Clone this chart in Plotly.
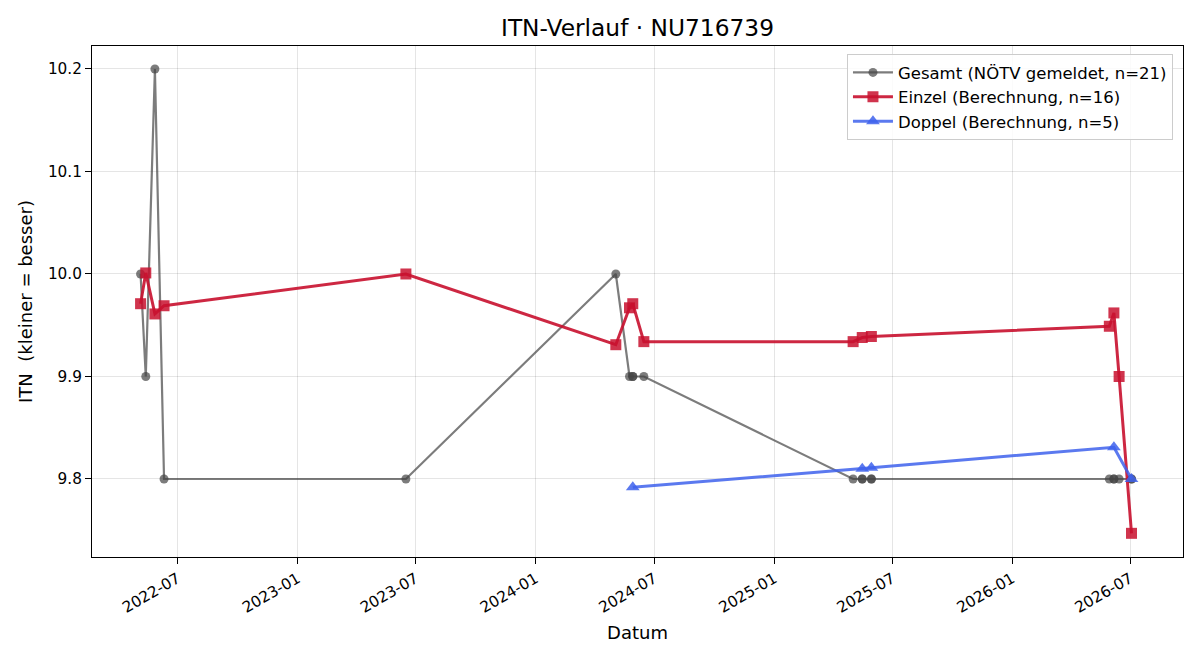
import plotly.graph_objects as go

# Data
gesamt_dates = ["2022-05-05", "2022-05-13", "2022-05-27", "2022-06-10", "2023-06-16",
                "2024-05-03", "2024-05-24", "2024-05-29", "2024-05-29", "2024-06-15",
                "2025-05-02", "2025-05-16", "2025-05-16", "2025-05-30", "2025-05-30",
                "2026-05-30", "2026-06-06", "2026-06-06", "2026-06-14", "2026-07-03", "2026-07-03"]
gesamt_vals = [10.0, 9.9, 10.2, 9.8, 9.8,
               10.0, 9.9, 9.9, 9.9, 9.9,
               9.8, 9.8, 9.8, 9.8, 9.8,
               9.8, 9.8, 9.8, 9.8, 9.8, 9.8]

einzel_dates = ["2022-05-05", "2022-05-13", "2022-05-27", "2022-06-10", "2023-06-16",
                "2024-05-03", "2024-05-24", "2024-05-29", "2024-06-15",
                "2025-05-02", "2025-05-16", "2025-05-30",
                "2026-05-30", "2026-06-06", "2026-06-14", "2026-07-03"]
einzel_vals = [9.971, 10.001, 9.961, 9.969, 10.0,
               9.931, 9.967, 9.971, 9.934,
               9.934, 9.938, 9.939,
               9.949, 9.962, 9.900, 9.747]

doppel_dates = ["2024-05-29", "2025-05-16", "2025-05-30", "2026-06-06", "2026-07-03"]
doppel_vals = [9.792, 9.810, 9.811, 9.831, 9.800]

x_tickvals = ["2022-07-01", "2023-01-01", "2023-07-01", "2024-01-01", "2024-07-01",
              "2025-01-01", "2025-07-01", "2026-01-01", "2026-07-01"]
x_ticktext = ["2022-07", "2023-01", "2023-07", "2024-01", "2024-07",
              "2025-01", "2025-07", "2026-01", "2026-07"]
y_tickvals = [9.8, 9.9, 10.0, 10.1, 10.2]

title_text = "ITN-Verlauf · NU716739"
y_title = "ITN\u00a0 (kleiner = besser)"
font_family = "DejaVu Sans"

fig = go.Figure()
fig.add_trace(go.Scatter(
    x=gesamt_dates, y=gesamt_vals, mode="lines+markers",
    name=f"Gesamt (NÖTV gemeldet, n={len(gesamt_vals)})",
    line=dict(color="rgba(68,68,68,0.7)", width=2.2),
    marker=dict(symbol="circle", size=9, color="rgba(68,68,68,0.7)"),
))
fig.add_trace(go.Scatter(
    x=einzel_dates, y=einzel_vals, mode="lines+markers",
    name=f"Einzel (Berechnung, n={len(einzel_vals)})",
    line=dict(color="rgba(200,16,46,0.9)", width=3),
    marker=dict(symbol="square", size=11, color="rgba(200,16,46,0.85)"),
))
fig.add_trace(go.Scatter(
    x=doppel_dates, y=doppel_vals, mode="lines+markers",
    name=f"Doppel (Berechnung, n={len(doppel_vals)})",
    line=dict(color="rgba(62,98,236,0.85)", width=3),
    marker=dict(symbol="triangle-up", size=12, color="rgba(62,98,236,0.85)"),
))

fig.update_layout(
    width=1200, height=660,
    margin=dict(l=92, r=17, t=46, b=103),
    paper_bgcolor="white", plot_bgcolor="white",
    font=dict(family=font_family, size=15.3, color="black"),
    title=dict(text=title_text, x=0.5, xref="paper", y=1 - 28 / 660, yref="container",
               yanchor="middle", xanchor="center", font=dict(size=23.3)),
    legend=dict(x=0.9908, y=0.984, xanchor="right", yanchor="top",
                bgcolor="rgba(255,255,255,0.85)", bordercolor="#cccccc", borderwidth=1,
                font=dict(size=16.5), tracegroupgap=0, itemwidth=40),
    showlegend=True,
)
fig.update_xaxes(
    type="date", range=["2022-02-19 12:00", "2026-09-20"],
    tickvals=x_tickvals, ticktext=x_ticktext, tickangle=-30,
    ticks="outside", ticklen=6, tickcolor="black",
    showline=True, linecolor="black", linewidth=1, mirror=True,
    showgrid=True, gridcolor="rgba(0,0,0,0.1)", gridwidth=1,
    zeroline=False,
    title=dict(text="Datum", standoff=10, font=dict(size=18)),
    tickfont=dict(size=15.3),
)
fig.update_yaxes(
    range=[9.7239, 10.2224],
    tickvals=y_tickvals, tickformat=".1f",
    ticks="outside", ticklen=6, tickcolor="black",
    showline=True, linecolor="black", linewidth=1, mirror=True,
    showgrid=True, gridcolor="rgba(0,0,0,0.1)", gridwidth=1,
    zeroline=False,
    title=dict(text=y_title, standoff=10, font=dict(size=18)),
    tickfont=dict(size=15.3),
)

fig.write_html("out.html")
